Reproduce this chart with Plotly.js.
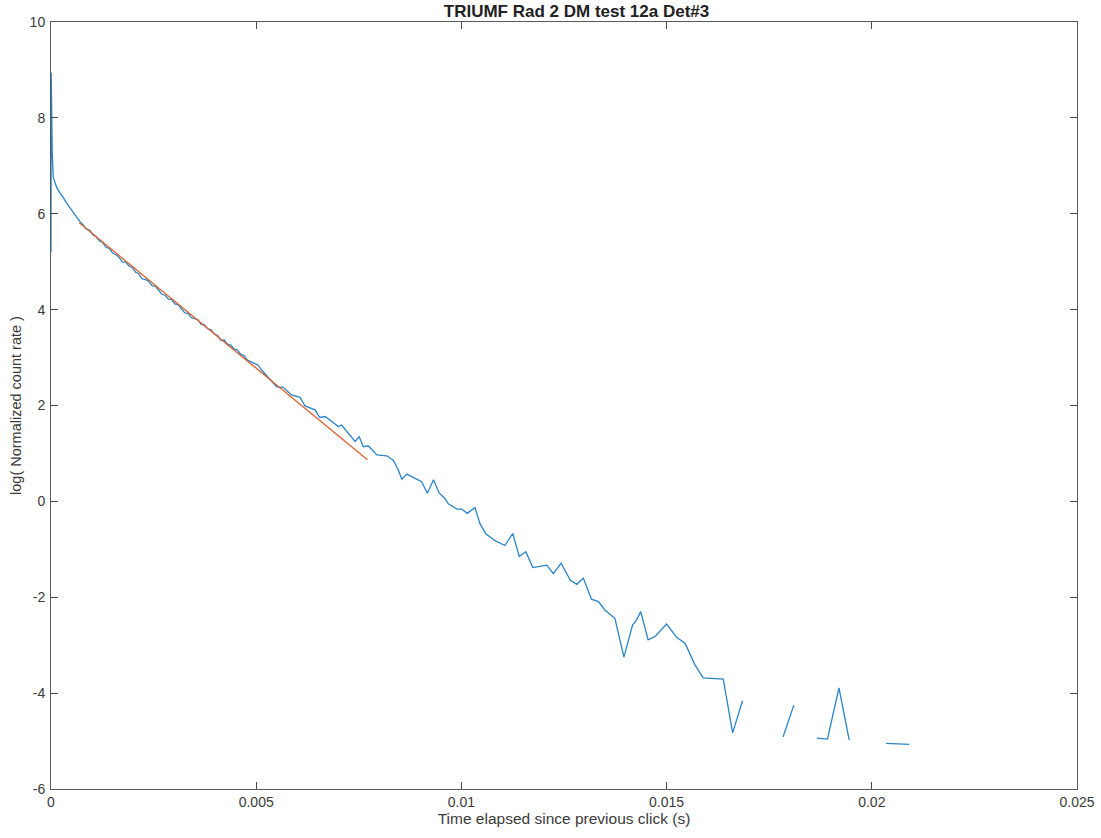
<!DOCTYPE html>
<html>
<head>
<meta charset="utf-8">
<script src="https://cdn.plot.ly/plotly-3.0.1.min.js"></script>
<style>html,body{margin:0;padding:0;background:#fff;}#chart{width:1101px;height:838px;}</style>
</head>
<body>
<div id="chart"></div>
<script>
// Measured curve: time (s) and log of normalized count rate (null = gap, log of zero)
const measuredTime = [
  0, 0.000005, 0.000012, 0.00002, 0.00003, 0.000055, 0.0001, 0.000146, 0.00022, 0.00029,
  0.00038, 0.00046, 0.00054, 0.00063, 0.00071,
  0.00078, 0.00086, 0.00094, 0.00102, 0.00110, 0.00118, 0.00126, 0.00134, 0.00142, 0.00150,
  0.00158, 0.00166, 0.00174, 0.00182, 0.00190, 0.00198, 0.00206, 0.00214, 0.00222, 0.00230,
  0.00238, 0.00246, 0.00254, 0.00262, 0.00270, 0.00278, 0.00286, 0.00294, 0.00302, 0.00310,
  0.00318, 0.00326, 0.00334, 0.00342, 0.00350, 0.00358, 0.00366, 0.00374, 0.00382, 0.00390,
  0.00398, 0.00406, 0.00414, 0.00422, 0.00430, 0.00438, 0.00446, 0.00454, 0.00462, 0.00470,
  0.00478,
  0.00505, 0.00513, 0.00534, 0.00550, 0.00566, 0.00586, 0.00607, 0.00619, 0.00643, 0.00655,
  0.00668, 0.00700, 0.00708, 0.00724, 0.00741, 0.00751, 0.00761, 0.00773, 0.00794, 0.00818,
  0.00834, 0.00846, 0.00855, 0.00867, 0.00903, 0.00917, 0.00932, 0.00946, 0.00960, 0.00968,
  0.00989, 0.01001, 0.01014, 0.01033, 0.01045, 0.01060, 0.01082, 0.01106, 0.01125, 0.01141,
  0.01157, 0.01174, 0.01208, 0.01224, 0.01243, 0.01265, 0.01281, 0.01297, 0.01317, 0.01334,
  0.01350, 0.01374, 0.01396, 0.01417, 0.01427, 0.01437, 0.01455, 0.01472, 0.01500, 0.01525,
  0.01545, 0.01569, 0.01589, 0.01638, 0.01661, 0.01685, 0.01735,
  0.01784, 0.01810, 0.01838,
  0.01866, 0.01892, 0.01920, 0.01945, 0.01990,
  0.02035, 0.02091
];
const measuredLogRate = [
  5.20, 8.94, 8.37, 7.96, 7.27, 6.77, 6.64, 6.54, 6.43, 6.35,
  6.22, 6.12, 6.04, 5.91, 5.83,
  5.77, 5.68, 5.66, 5.56, 5.52, 5.43, 5.40, 5.30, 5.28, 5.18,
  5.15, 5.09, 4.99, 4.99, 4.91, 4.88, 4.78, 4.75, 4.64, 4.63,
  4.59, 4.50, 4.49, 4.40, 4.32, 4.30, 4.22, 4.21, 4.12, 4.10,
  4.02, 3.93, 3.92, 3.83, 3.81, 3.79, 3.69, 3.68, 3.60, 3.58,
  3.49, 3.46, 3.36, 3.37, 3.28, 3.26, 3.18, 3.16, 3.07, 3.04,
  2.95,
  2.84, 2.74, 2.53, 2.39, 2.38, 2.22, 2.17, 1.99, 1.91, 1.75,
  1.77, 1.56, 1.59, 1.42, 1.25, 1.35, 1.14, 1.16, 0.97, 0.95,
  0.86, 0.66, 0.46, 0.57, 0.41, 0.17, 0.45, 0.17, 0.06, -0.05,
  -0.16, -0.16, -0.25, -0.13, -0.46, -0.68, -0.82, -0.92, -0.67, -1.15,
  -1.05, -1.38, -1.33, -1.51, -1.29, -1.64, -1.73, -1.60, -2.04, -2.09,
  -2.27, -2.44, -3.25, -2.58, -2.47, -2.30, -2.89, -2.82, -2.56, -2.84,
  -2.96, -3.41, -3.68, -3.71, -4.83, -4.16, null,
  -4.91, -4.25, null,
  -4.94, -4.96, -3.89, -4.98, null,
  -5.05, -5.07
];
// Linear fit line
const fitTime = [0.00069, 0.00771];
const fitLogRate = [5.81, 0.87];

const xTickVals = [0, 0.005, 0.01, 0.015, 0.02, 0.025];
const xTickText = ['0', '0.005', '0.01', '0.015', '0.02', '0.025'];
const yTickVals = [-6, -4, -2, 0, 2, 4, 6, 8, 10];
const yTickText = ['-6', '-4', '-2', '0', '2', '4', '6', '8', '10'];

const font = 'Liberation Sans, Arial, sans-serif';
const axisCommon = {
  showline: true, linecolor: '#5a5a5a', linewidth: 1, mirror: 'ticks',
  ticks: 'inside', ticklen: 7, tickcolor: '#4a4a4a', tickwidth: 1,
  showgrid: false, zeroline: false,
  tickfont: {family: font, size: 14, color: '#3a3a3a'}
};

const traces = [
  {x: measuredTime, y: measuredLogRate, type: 'scatter', mode: 'lines',
   connectgaps: false, line: {color: '#2a84c8', width: 1.3}, showlegend: false},
  {x: fitTime, y: fitLogRate, type: 'scatter', mode: 'lines',
   line: {color: '#dd6330', width: 1.3}, showlegend: false}
];

const layout = {
  width: 1101, height: 838,
  margin: {l: 51, r: 24, t: 22, b: 49},
  paper_bgcolor: '#fff', plot_bgcolor: '#fff',
  title: {text: '<b>TRIUMF Rad 2 DM test 12a Det#3</b>', font: {family: font, size: 17, color: '#222'},
          x: 0.5122, xanchor: 'center', xref: 'paper', yref: 'container', y: 1 - 11/838, yanchor: 'middle'},
  xaxis: Object.assign({}, axisCommon, {
    range: [0, 0.025], tickvals: xTickVals, ticktext: xTickText,
    title: {text: 'Time elapsed since previous click (s)', font: {family: font, size: 15.5, color: '#3a3a3a'}, standoff: 2}
  }),
  yaxis: Object.assign({}, axisCommon, {
    range: [-6, 10], tickvals: yTickVals, ticktext: yTickText, ticklabelstandoff: 2,
    title: {text: 'log( Normalized count rate )', font: {family: font, size: 14.5, color: '#3a3a3a'}, standoff: 4}
  })
};

Plotly.newPlot('chart', traces, layout, {displayModeBar: false, staticPlot: true});
</script>
</body>
</html>
